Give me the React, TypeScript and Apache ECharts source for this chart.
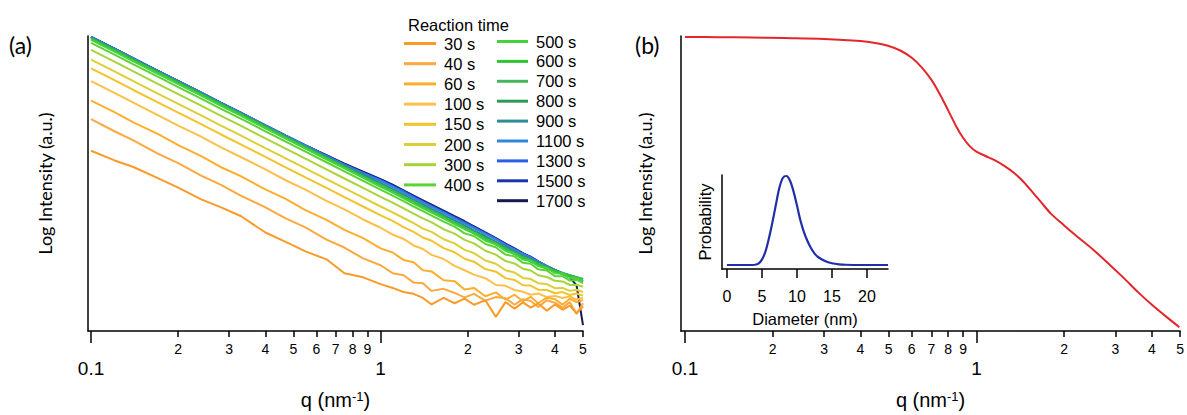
import React, { useEffect, useRef } from "react";
import * as echarts from "echarts";

// ---------- Panel (a): q grid and log-intensity (arbitrary units, 0..100) ----------
const Q = [0.1, 0.12, 0.14, 0.17, 0.2, 0.24, 0.28, 0.33, 0.4, 0.47, 0.55, 0.65, 0.75, 0.87, 1, 1.1, 1.2, 1.3, 1.4, 1.5, 1.65, 1.8, 1.95, 2.1, 2.3, 2.5, 2.7, 2.9, 3.1, 3.3, 3.5, 3.75, 4, 4.25, 4.5, 4.75, 5];

const TIMES = ["30 s", "40 s", "60 s", "100 s", "150 s", "200 s", "300 s", "400 s", "500 s", "600 s", "700 s", "800 s", "900 s", "1100 s", "1300 s", "1500 s", "1700 s"];
const COLORS = ["#FA9A28", "#FBA83E", "#FCAE2C", "#FCC04A", "#F0C42A", "#DCCF34", "#A9D33A", "#5AD334", "#46D23A", "#2FC436", "#45B85E", "#2E9B5C", "#2E8C96", "#2E86E0", "#2A5DE6", "#1C33B0", "#141A50"];

const I30 = [61.1, 57.9, 55.6, 51.8, 48.6, 44.6, 42.0, 38.9, 33.4, 30.2, 27.0, 24.3, 19.6, 18.2, 15.9, 14.6, 13.2, 12.6, 11.2, 9.0, 11.2, 9.4, 11.0, 8.9, 10.4, 4.8, 9.8, 7.6, 9.7, 7.9, 9.4, 6.9, 9.0, 7.2, 8.6, 6.0, 8.3];
const I40 = [71.8, 67.8, 64.6, 60.1, 56.9, 52.7, 49.6, 45.8, 41.9, 38.2, 35.1, 31.0, 28.3, 24.6, 22.3, 19.6, 18.9, 16.4, 16.2, 13.6, 14.3, 12.9, 11.4, 12.6, 10.3, 11.5, 11.1, 8.9, 10.8, 10.2, 8.1, 10.4, 9.6, 7.9, 9.8, 5.8, 9.4];
const I60 = [78.1, 74.3, 70.7, 66.8, 63.0, 59.3, 55.6, 52.4, 48.0, 44.8, 41.0, 37.7, 34.3, 31.5, 28.0, 26.6, 24.1, 23.3, 20.6, 20.2, 17.2, 16.9, 14.1, 14.6, 11.8, 13.1, 10.6, 12.3, 10.1, 11.6, 9.4, 11.3, 10.8, 8.9, 10.9, 9.8, 10.5];
const I100 = [84.7, 80.8, 77.4, 73.2, 69.6, 65.9, 62.3, 58.9, 54.8, 51.1, 47.9, 44.1, 41.2, 37.8, 35.0, 32.7, 31.2, 29.0, 27.8, 25.8, 24.4, 22.1, 20.6, 19.1, 17.9, 15.6, 15.3, 13.9, 13.3, 12.3, 12.7, 11.5, 11.9, 11.2, 11.7, 10.6, 11.3];
const I150 = [89.0, 85.1, 81.7, 77.5, 74.0, 70.1, 66.7, 63.2, 59.0, 55.5, 52.1, 48.5, 45.4, 42.2, 39.2, 37.3, 35.2, 33.6, 31.7, 30.6, 28.1, 26.7, 24.5, 23.5, 21.0, 20.1, 17.9, 17.3, 15.5, 15.4, 14.0, 13.9, 12.8, 13.2, 12.2, 12.7, 12.0];
const I200 = [92.0, 88.1, 84.7, 80.5, 77.0, 73.1, 69.7, 66.2, 62.0, 58.5, 55.1, 51.5, 48.4, 45.2, 42.2, 40.2, 38.3, 36.6, 34.7, 33.6, 31.1, 29.7, 27.5, 26.4, 23.9, 22.8, 20.6, 19.8, 18.0, 17.6, 16.2, 15.9, 14.5, 14.6, 13.6, 14.0, 13.2];
const I300 = [95.3, 91.4, 88.0, 83.8, 80.3, 76.4, 73.0, 69.5, 65.3, 61.8, 58.4, 54.8, 51.7, 48.5, 45.5, 43.5, 41.6, 39.8, 38.2, 36.8, 34.5, 33.0, 30.9, 29.7, 27.2, 25.9, 23.7, 22.9, 21.1, 20.5, 18.9, 18.3, 17.0, 16.8, 15.6, 15.7, 15.0];
const I400 = [97.7, 93.8, 90.4, 86.2, 82.7, 78.8, 75.4, 71.9, 67.7, 64.2, 60.8, 57.2, 54.1, 50.9, 47.9, 45.9, 44.0, 42.2, 40.6, 39.1, 37.1, 35.4, 33.1, 32.2, 29.5, 28.4, 25.9, 25.3, 23.1, 22.8, 20.9, 20.5, 18.6, 18.6, 17.1, 17.3, 16.2];
const I500 = [98.7, 94.8, 91.4, 87.2, 83.7, 79.8, 76.4, 72.9, 68.7, 65.2, 61.8, 58.2, 55.1, 51.9, 48.9, 46.9, 45.0, 43.2, 41.6, 40.1, 38.1, 36.2, 34.5, 33.1, 30.6, 29.4, 27.1, 26.2, 24.2, 23.7, 22.0, 21.3, 19.6, 19.4, 18.0, 18.0, 16.9];
const I600 = [99.0, 95.1, 91.7, 87.5, 84.0, 80.1, 76.7, 73.2, 69.0, 65.5, 62.1, 58.5, 55.4, 52.2, 49.2, 47.2, 45.3, 43.5, 41.9, 40.4, 38.4, 36.5, 34.8, 33.1, 31.3, 29.3, 27.8, 26.0, 24.9, 23.5, 22.7, 21.1, 20.3, 19.2, 18.7, 17.8, 17.4];
const I700 = [99.2, 95.3, 91.9, 87.7, 84.2, 80.3, 76.9, 73.4, 69.2, 65.7, 62.3, 58.7, 55.6, 52.4, 49.4, 47.4, 45.5, 43.7, 42.1, 40.6, 38.6, 36.7, 35.0, 33.5, 31.3, 29.7, 27.8, 26.5, 24.9, 24.0, 22.7, 21.6, 20.3, 19.7, 18.7, 18.3, 17.6];
const I800 = [99.3, 95.4, 92.0, 87.8, 84.3, 80.4, 77.0, 73.5, 69.3, 65.8, 62.4, 58.8, 55.7, 52.5, 49.5, 47.5, 45.6, 43.8, 42.2, 40.7, 38.7, 36.8, 35.1, 33.4, 31.6, 29.6, 28.1, 26.4, 25.2, 23.9, 23.0, 21.5, 20.6, 19.6, 18.9, 18.2, 17.6];
const I900 = [99.5, 95.6, 92.2, 88.0, 84.5, 80.6, 77.2, 73.7, 69.5, 66.0, 62.6, 59.0, 56.0, 53.0, 50.2, 48.2, 46.3, 44.5, 42.9, 41.4, 39.4, 37.5, 35.8, 34.1, 32.2, 30.3, 28.6, 27.0, 25.5, 24.4, 23.2, 21.8, 20.6, 19.7, 18.9, 18.1, 17.5];
const I1100 = [99.7, 95.8, 92.4, 88.2, 84.7, 80.8, 77.4, 73.9, 69.7, 66.2, 62.9, 59.3, 56.3, 53.4, 50.9, 48.9, 47.0, 45.2, 43.6, 42.1, 40.1, 38.2, 36.5, 34.9, 32.9, 31.1, 29.1, 27.6, 26.1, 24.9, 23.5, 22.0, 20.7, 19.6, 18.6, 17.6, 17.0];
const I1300 = [99.7, 95.8, 92.4, 88.2, 84.7, 80.8, 77.4, 73.9, 69.7, 66.2, 62.9, 59.4, 56.4, 53.6, 51.1, 49.1, 47.3, 45.4, 43.8, 42.3, 40.3, 38.4, 36.7, 35.1, 33.1, 31.2, 29.3, 27.7, 26.2, 25.0, 23.5, 22.0, 20.7, 19.5, 18.5, 17.5, 16.9];
const I1500 = [99.7, 95.8, 92.4, 88.2, 84.7, 80.8, 77.4, 73.9, 69.7, 66.2, 62.9, 59.5, 56.6, 53.8, 51.3, 49.4, 47.5, 45.7, 44.1, 42.6, 40.6, 38.7, 37.0, 35.4, 33.3, 31.4, 29.5, 27.9, 26.3, 25.1, 23.6, 22.0, 20.6, 19.4, 18.4, 17.4, 16.8];
const I1700 = [99.7, 95.8, 92.4, 88.2, 84.7, 80.8, 77.4, 73.9, 69.7, 66.2, 62.9, 59.6, 56.7, 54.0, 51.5, 49.6, 47.7, 45.9, 44.3, 42.8, 40.8, 38.9, 37.2, 35.5, 33.4, 31.5, 29.6, 28.0, 26.4, 25.1, 23.6, 22.0, 20.6, 19.3, 18.2, 15.5, 2.0];

const SERIES_A = [I30, I40, I60, I100, I150, I200, I300, I400, I500, I600, I700, I800, I900, I1100, I1300, I1500, I1700];

// ---------- Panel (b): model curve ----------
const QB = [0.1, 0.13, 0.17, 0.22, 0.3, 0.4, 0.45, 0.5, 0.55, 0.6, 0.65, 0.7, 0.75, 0.8, 0.85, 0.9, 0.95, 1.0, 1.07, 1.15, 1.25, 1.35, 1.45, 1.55, 1.65, 1.8, 2.0, 2.2, 2.5, 2.8, 3.2, 3.6, 4.0, 4.5, 4.97];
const IB = [99.7, 99.6, 99.5, 99.3, 99.0, 98.3, 97.6, 96.6, 95.0, 92.6, 89.3, 85.2, 80.2, 74.8, 69.6, 65.5, 62.6, 60.8, 59.4, 58.0, 55.9, 53.5, 50.6, 47.3, 44.2, 39.8, 35.8, 32.3, 27.8, 23.4, 18.0, 13.0, 8.9, 4.7, 1.3];

// ---------- Inset: size distribution ----------
const DIAM = [0, 3, 4, 4.5, 5, 5.5, 6, 6.5, 7, 7.5, 8, 8.5, 9, 9.5, 10, 10.5, 11, 11.5, 12, 12.5, 13, 14, 15, 16, 17, 19, 23];
const PROB = [0, 0, 0.003, 0.015, 0.06, 0.15, 0.3, 0.48, 0.68, 0.87, 0.98, 1.0, 0.95, 0.83, 0.67, 0.5, 0.37, 0.27, 0.19, 0.13, 0.09, 0.045, 0.02, 0.008, 0.003, 0, 0];

// ---------- Tick values ----------
const MINOR_TICKS = [0.2, 0.3, 0.4, 0.5, 0.6, 0.7, 0.8, 0.9, 2, 3, 4, 5];
const MAJOR_TICKS = [0.1, 1];
const INSET_TICKS = [0, 5, 10, 15, 20];

const SANS = "Liberation Sans";
const TITLE_FONT = "Lato";

function digitLabel(v: number): string {
  const e = Math.floor(Math.log10(v) + 1e-9);
  return String(Math.round(v / Math.pow(10, e)));
}

function majorLabel(v: number): string {
  return v < 0.5 ? "0.1" : "1";
}

function xAxesFor(gridIndex: number, min: number) {
  return [
    {
      type: "log",
      logBase: 10,
      gridIndex,
      position: "bottom",
      min,
      max: 5,
      axisLine: { show: true, onZero: false, lineStyle: { color: "#000", width: 1.5 } },
      axisTick: { show: true, customValues: MINOR_TICKS, length: 6, lineStyle: { color: "#000", width: 1.5 } },
      axisLabel: { show: true, customValues: MINOR_TICKS, formatter: digitLabel, fontSize: 14, fontFamily: SANS, color: "#000", margin: 11 },
      splitLine: { show: false },
      minorTick: { show: false },
    },
    {
      type: "log",
      logBase: 10,
      gridIndex,
      position: "bottom",
      min,
      max: 5,
      axisLine: { show: false, onZero: false },
      axisTick: { show: true, customValues: MAJOR_TICKS, length: 12, lineStyle: { color: "#000", width: 1.5 } },
      axisLabel: { show: true, customValues: MAJOR_TICKS, formatter: majorLabel, fontSize: 19, fontFamily: SANS, color: "#000", margin: 28 },
      splitLine: { show: false },
      name: "q (nm{sup|-1})",
      nameLocation: "middle",
      nameGap: 59,
      nameTextStyle: {
        fontSize: 20,
        fontFamily: SANS,
        color: "#000",
        rich: { sup: { fontSize: 13, fontFamily: SANS, color: "#000", verticalAlign: "top" } },
      },
    },
  ];
}

function buildOption() {
  const seriesA = SERIES_A.map((vals, i) => ({
    type: "line",
    name: TIMES[i],
    xAxisIndex: 0,
    yAxisIndex: 0,
    data: Q.map((q, j) => [q, vals[j]]),
    symbol: "none",
    showSymbol: false,
    lineStyle: { width: 2, color: COLORS[i] },
    itemStyle: { color: COLORS[i] },
    z: 2 + (SERIES_A.length - i),
  })).reverse();

  const legendText = { fontSize: 16.5, fontFamily: SANS, color: "#000", lineHeight: 16.5, padding: [0, 0, 0, 3] };

  return {
    animation: false,
    backgroundColor: "#fff",
    title: [
      { text: "(a)", left: 9, top: 33, padding: 0, textStyle: { fontFamily: TITLE_FONT, fontSize: 23, fontWeight: "normal", color: "#000" } },
      { text: "(b)", left: 635, top: 33, padding: 0, textStyle: { fontFamily: TITLE_FONT, fontSize: 23, fontWeight: "normal", color: "#000" } },
      { text: "Reaction time", left: 408, top: 16, padding: 0, textStyle: { fontFamily: SANS, fontSize: 16.5, fontWeight: "normal", color: "#000" } },
    ],
    legend: [
      {
        data: TIMES.slice(0, 8),
        orient: "vertical",
        left: 404,
        top: 35,
        padding: 0,
        icon: "rect",
        itemWidth: 32,
        itemHeight: 3,
        itemGap: 3.2,
        selectedMode: false,
        textStyle: legendText,
      },
      {
        data: TIMES.slice(8),
        orient: "vertical",
        left: 497,
        top: 33,
        padding: 0,
        icon: "rect",
        itemWidth: 31,
        itemHeight: 3,
        itemGap: 2.9,
        selectedMode: false,
        textStyle: legendText,
      },
    ],
    grid: [
      { left: 88, top: 36, width: 495, height: 301 },
      { left: 681, top: 36, width: 502, height: 301 },
      { left: 722, top: 175, width: 166, height: 94 },
    ],
    xAxis: [
      ...xAxesFor(0, 0.0976),
      ...xAxesFor(1, 0.0969),
      {
        type: "value",
        gridIndex: 2,
        position: "bottom",
        min: -0.7,
        max: 23,
        axisLine: { show: true, onZero: false, lineStyle: { color: "#000", width: 1.5 } },
        axisTick: { show: true, customValues: INSET_TICKS, length: 9, lineStyle: { color: "#000", width: 1.5 } },
        axisLabel: { show: true, customValues: INSET_TICKS, fontSize: 16, fontFamily: SANS, color: "#000", margin: 19 },
        splitLine: { show: false },
        name: "Diameter (nm)",
        nameLocation: "middle",
        nameGap: 41,
        nameTextStyle: { fontSize: 16.5, fontFamily: SANS, color: "#000" },
      },
    ],
    yAxis: [
      {
        type: "value",
        gridIndex: 0,
        min: 0,
        max: 100,
        axisLine: { show: true, onZero: false, lineStyle: { color: "#000", width: 1.5 } },
        axisTick: { show: false },
        axisLabel: { show: false },
        splitLine: { show: false },
        name: "Log Intensity (a.u.)",
        nameLocation: "middle",
        nameGap: 34,
        nameTextStyle: { fontSize: 18, fontFamily: TITLE_FONT, color: "#000" },
      },
      {
        type: "value",
        gridIndex: 1,
        min: 0,
        max: 100,
        axisLine: { show: true, onZero: false, lineStyle: { color: "#000", width: 1.5 } },
        axisTick: { show: false },
        axisLabel: { show: false },
        splitLine: { show: false },
        name: "Log Intensity (a.u.)",
        nameLocation: "middle",
        nameGap: 27,
        nameTextStyle: { fontSize: 18, fontFamily: TITLE_FONT, color: "#000" },
      },
      {
        type: "value",
        gridIndex: 2,
        min: -0.045,
        max: 1.011,
        axisLine: { show: true, onZero: false, lineStyle: { color: "#000", width: 1.5 } },
        axisTick: { show: false },
        axisLabel: { show: false },
        splitLine: { show: false },
        name: "Probability",
        nameLocation: "middle",
        nameGap: 9,
        nameTextStyle: { fontSize: 16.5, fontFamily: SANS, color: "#000" },
      },
    ],
    series: [
      ...seriesA,
      {
        type: "line",
        name: "model",
        xAxisIndex: 2,
        yAxisIndex: 1,
        data: QB.map((q, j) => [q, IB[j]]),
        symbol: "none",
        showSymbol: false,
        smooth: 0.3,
        lineStyle: { width: 2, color: "#E3262B" },
        itemStyle: { color: "#E3262B" },
      },
      {
        type: "line",
        name: "distribution",
        xAxisIndex: 4,
        yAxisIndex: 2,
        data: DIAM.map((d, j) => [d, PROB[j]]),
        symbol: "none",
        showSymbol: false,
        smooth: 0.3,
        lineStyle: { width: 2.2, color: "#1F2FA8" },
        itemStyle: { color: "#1F2FA8" },
      },
    ],
  };
}

export default function App() {
  const ref = useRef<HTMLDivElement>(null);
  useEffect(() => {
    if (!ref.current) return;
    const chart = echarts.init(ref.current, null, { renderer: "svg" });
    chart.setOption(buildOption() as any);
    return () => chart.dispose();
  }, []);
  return (
    <div
      ref={ref}
      style={{ position: "fixed", left: 0, top: 0, width: 1187, height: 415, background: "#fff" }}
    />
  );
}
